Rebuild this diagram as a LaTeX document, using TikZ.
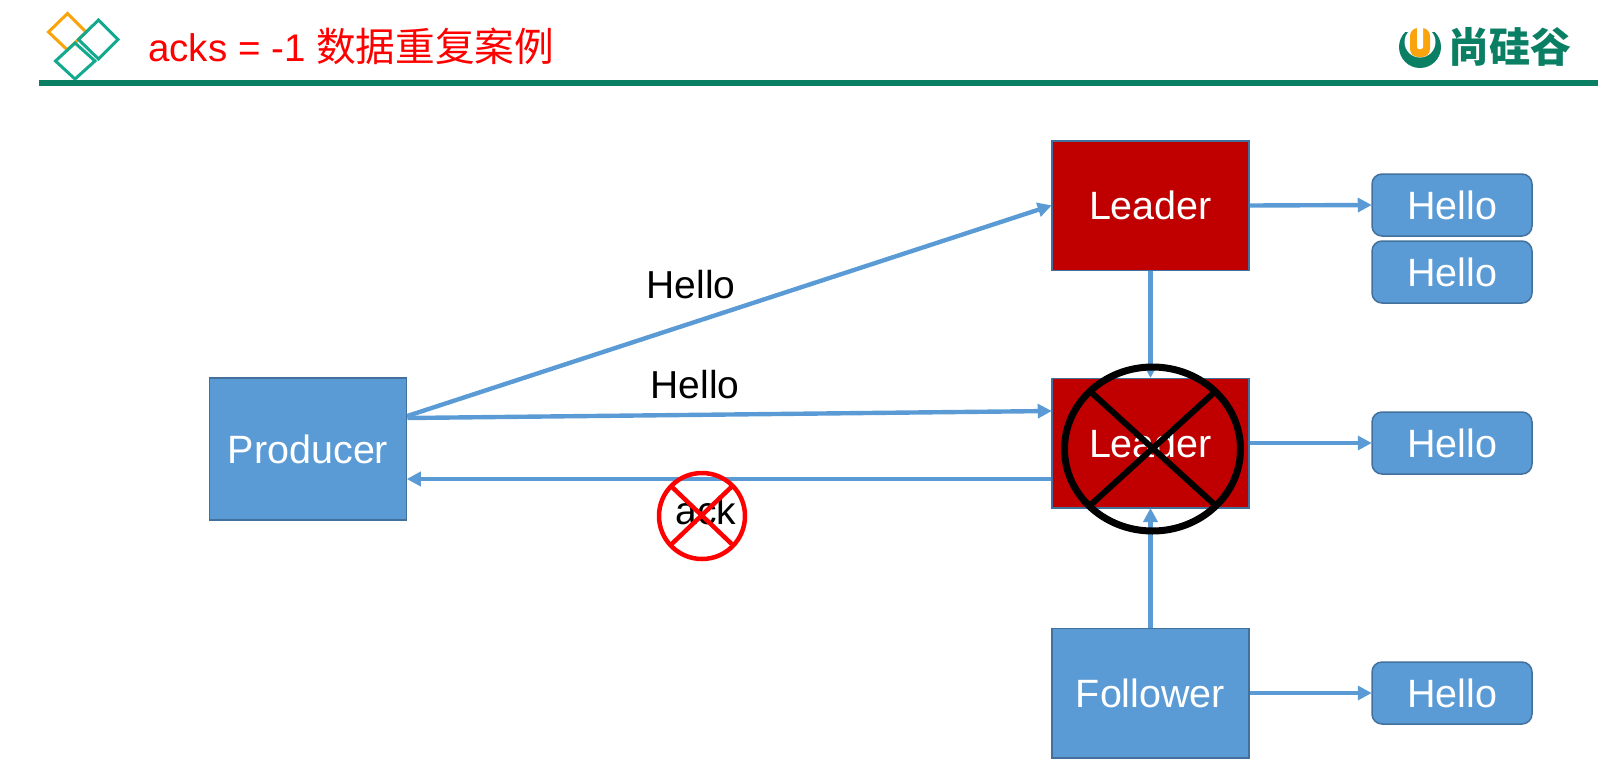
\documentclass[tikz,border=0pt]{standalone}
\usepackage{fontspec}
\setmainfont{Liberation Sans}
\newfontfamily\cjk{Noto Sans CJK SC}
\usetikzlibrary{arrows.meta}
\definecolor{boxblue}{HTML}{5B9BD5}
\definecolor{boxline}{HTML}{41719C}
\definecolor{leaderred}{HTML}{C00000}
\definecolor{rulegreen}{HTML}{0A7F63}
\definecolor{logoorange}{HTML}{F9A40C}
\definecolor{diamondteal}{HTML}{13A98F}

\begin{document}
\begin{tikzpicture}[
    x=1pt, y=-1pt,
    block/.style={draw=boxline, line width=1.5pt, text=white, font=\fontsize{39.5}{39.5}\selectfont, minimum width=197pt, inner sep=0pt},
    lead/.style={block, fill=leaderred, minimum height=129.5pt},
    prod/.style={block, fill=boxblue, minimum height=142pt},
    foll/.style={block, fill=boxblue, minimum height=129.5pt},
    msg/.style={draw=boxline, line width=1.5pt, fill=boxblue, text=white, rounded corners=10pt, font=\fontsize{39.5}{39.5}\selectfont, minimum width=160pt, minimum height=62pt, inner sep=0pt},
    flow/.style={draw=boxblue, line width=4.4pt, -{Triangle[length=14pt,width=14pt]}, shorten >=-0.5pt},
    label/.style={text=black, font=\fontsize{39}{39}\selectfont, inner sep=0pt},
    diamond line/.style={line width=3pt, line join=miter}
]
\useasboundingbox (0,0) rectangle (1610,772);

% title
\draw[diamond line, logoorange] (48.5,32) -- (67.5,13.5) -- (86,32) -- (67.5,50) -- cycle;
\draw[diamond line, diamondteal] (78.5,39.5) -- (98.5,20) -- (118,39.5) -- (98.5,59) -- cycle;
\draw[diamond line, diamondteal] (55.5,61) -- (75,43) -- (95,61) -- (75,79) -- cycle;
\node[text=red, font=\fontsize{38.5}{38.5}\selectfont, anchor=west, inner sep=0pt] (title) at (148,46) {acks = -1 {\cjk\fontsize{39.7}{39.7}\selectfont 数据重复案例}};
\fill[rulegreen] (39,80) rectangle (1598,85.5);

% logo
\fill[rulegreen] (1420,47) circle (21);
\fill[white] (1420,42) circle (15.5);
\fill[white] (1395,22) rectangle (1445,32);
\fill[logoorange, rounded corners=8pt] (1410,28) rectangle (1430,57);
\fill[white, rounded corners=2pt] (1417,26) rectangle (1423,49);
\node[text=rulegreen, font=\cjk\bfseries\fontsize{41}{41}\selectfont, anchor=west, inner sep=0pt] (logo) at (1448,47) {尚硅谷};

% level 1
\node[prod] (producer) at (308,449) {Producer};

% level 2
\node[lead] (leadertop) at (1150.5,205.5) {Leader};
\node[lead] (leadermid) at (1150.5,443) {Leader};
\node[foll] (follower) at (1150.5,693) {Follower};

% level 3
\node[msg] (hello1) at (1452,205) {Hello};
\node[msg] (hello2) at (1452,272) {Hello};
\node[msg] (hello3) at (1452,443) {Hello};
\node[msg] (hello4) at (1452,693) {Hello};

\draw[flow] ([yshift=33pt]producer.east) -- (leadertop.west);
\draw[flow] ([yshift=31pt]producer.east) -- ([yshift=32pt]leadermid.west);
\draw[flow] ([yshift=-36pt]leadermid.west) -- ([yshift=-30pt]producer.east);
\draw[flow] (leadertop.east) -- (hello1.west);
\draw[flow] (leadermid.east) -- (hello3.west);
\draw[flow] (follower.east) -- (hello4.west);
\draw[flow] (leadertop.south) -- (leadermid.north);
\draw[flow] (follower.north) -- (leadermid.south);

% labels
\node[label] (hellotop) at (691,285) {Hello};
\node[label] (hellomid) at (695,385) {Hello};
\node[label] (ack) at (706,511) {ack};

% crosses
\draw[line width=7pt] (1152.5,449) ellipse (88 and 82);
\draw[line width=6pt] (1090.5,391.7) -- (1215,505) (1215,391.7) -- (1090.5,505);
\draw[red, line width=4.5pt] (702,516) circle (43);
\draw[red, line width=4.5pt] (671.7,486.7) -- (731.7,544) (731.7,486.7) -- (671.7,544);
\end{tikzpicture}
\end{document}
